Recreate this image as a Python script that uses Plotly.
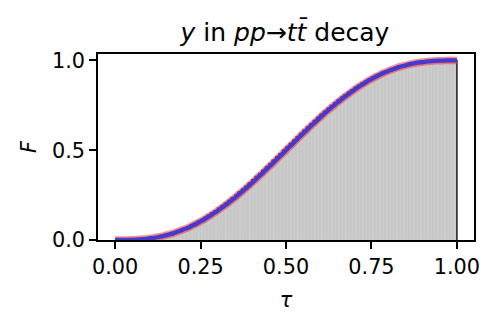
import plotly.graph_objects as go

# BINNING (100 EQUAL BINS ON [0,1])
bin_lo = 0.0
bin_hi = 1.0
n_bins = 100

# CUMULATIVE F AT EVERY BIN EDGE (0.00, 0.01, ... 1.00)
F_edges = [
    0.000, 0.000, 0.000, 0.000, 0.001, 0.001, 0.002, 0.003, 0.005, 0.006,
    0.009, 0.011, 0.014, 0.018, 0.022, 0.027, 0.032, 0.037, 0.044, 0.051,
    0.058, 0.066, 0.074, 0.084, 0.093, 0.104, 0.114, 0.126, 0.138, 0.150,
    0.163, 0.177, 0.191, 0.205, 0.220, 0.235, 0.251, 0.267, 0.283, 0.300,
    0.317, 0.335, 0.353, 0.370, 0.389, 0.407, 0.425, 0.444, 0.463, 0.481,
    0.500, 0.519, 0.537, 0.556, 0.575, 0.593, 0.611, 0.630, 0.647, 0.665,
    0.683, 0.700, 0.717, 0.733, 0.749, 0.765, 0.780, 0.795, 0.809, 0.823,
    0.837, 0.850, 0.862, 0.874, 0.886, 0.896, 0.907, 0.916, 0.926, 0.934,
    0.942, 0.949, 0.956, 0.963, 0.968, 0.973, 0.978, 0.982, 0.986, 0.989,
    0.991, 0.994, 0.995, 0.997, 0.998, 0.999, 0.999, 1.000, 1.000, 1.000,
    1.000,
]

x_ticks = [0.0, 0.25, 0.5, 0.75, 1.0]
x_ticklabels = ["0.00", "0.25", "0.50", "0.75", "1.00"]
y_ticks = [0.0, 0.5, 1.0]
y_ticklabels = ["0.0", "0.5", "1.0"]

width = (bin_hi - bin_lo) / n_bins
edges = [bin_lo + i * width for i in range(n_bins + 1)]
centers = [e + width / 2 for e in edges[:-1]]
hist_h = F_edges[1:]   # cumulative histogram: bar height = F at right edge

FONT = "DejaVu Sans"

fig = go.Figure()

# grey bars
fig.add_trace(go.Bar(
    x=centers, y=hist_h, width=width,
    marker=dict(color="rgb(204,204,204)",
                line=dict(color="rgb(192,192,192)", width=0.6)),
    showlegend=False, hoverinfo="skip"))

# dark outline of the histogram
step_x = [edges[0]] + edges[:-1] + [edges[-1], edges[-1]]
step_y = [0] + hist_h + [hist_h[-1], 0]
fig.add_trace(go.Scatter(
    x=step_x, y=step_y, mode="lines", line_shape="hv",
    line=dict(color="rgb(30,30,30)", width=1.5),
    showlegend=False, hoverinfo="skip"))

# red halo + blue curve
fig.add_trace(go.Scatter(
    x=edges, y=F_edges, mode="lines", line_shape="spline",
    line=dict(color="rgba(250,60,70,0.6)", width=7.5),
    showlegend=False))
fig.add_trace(go.Scatter(
    x=edges, y=F_edges, mode="lines", line_shape="spline",
    line=dict(color="rgb(68,58,205)", width=4.3),
    showlegend=False))

axis_common = dict(
    showgrid=False, zeroline=False, automargin=False,
    showline=True, linecolor="black", linewidth=1.7, mirror=True,
    ticks="outside", ticklen=7, tickwidth=1.7, tickcolor="black",
    tickfont=dict(family=FONT, size=20.8, color="black"),
)

# page body adds an 8px margin all round, so the figure is shrunk to fit
fig.update_layout(
    width=482, height=309,
    margin=dict(l=90, r=16, t=46, b=77, autoexpand=False),
    paper_bgcolor="white", plot_bgcolor="white",
    bargap=0,
    title=dict(text="<i>y</i> in <i>pp</i>→<i>tt\u0304</i> decay",
               x=0.5747, xanchor="center", y=0.9223, yanchor="middle",
               automargin=False,
               font=dict(family=FONT, size=25, color="black")),
    xaxis=dict(range=[-0.05, 1.05], tickvals=x_ticks, ticktext=x_ticklabels,
               title=dict(text="<i>τ</i>", standoff=15,
                          font=dict(family=FONT, size=20.8, color="black")),
               **axis_common),
    yaxis=dict(range=[0, 1.036], tickvals=y_ticks, ticktext=y_ticklabels,
               title=dict(text="<i>F</i>", standoff=10,
                          font=dict(family=FONT, size=20.8, color="black")),
               **axis_common),
)

fig.write_html("out.html")
